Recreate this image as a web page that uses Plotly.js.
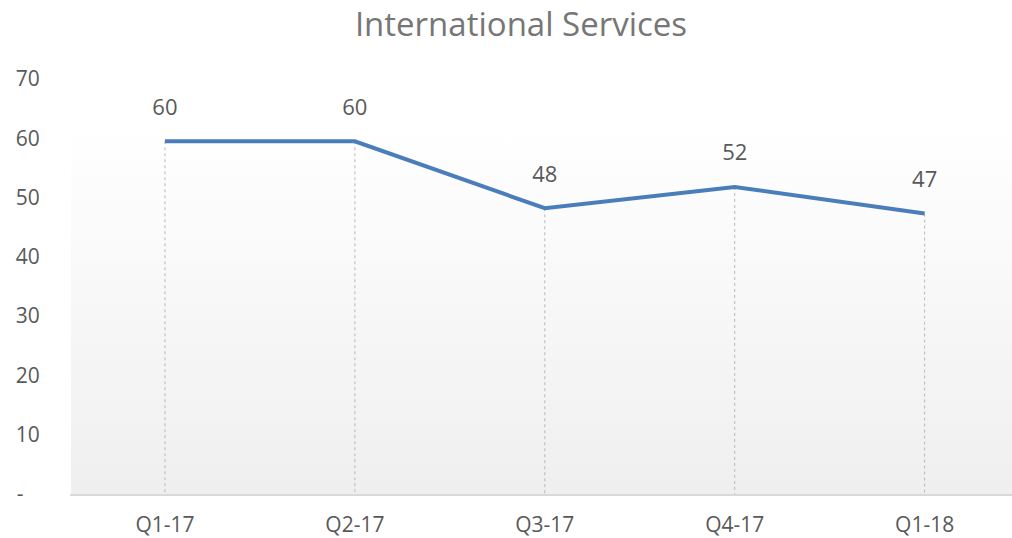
<!DOCTYPE html>
<html>
<head>
<meta charset="utf-8">
<script src="https://cdn.plot.ly/plotly-3.0.1.min.js"></script>
<style>
html,body{margin:0;padding:0;background:#fff;}
#wrap{position:relative;width:1012px;height:538px;}
#bg{position:absolute;left:71px;top:128px;width:941px;height:366px;background:linear-gradient(to bottom,#ffffff 0%,#efefef 100%);}
#chart{position:absolute;left:0;top:0;width:1012px;height:538px;}
</style>
</head>
<body>
<div id="wrap"><div id="bg"></div><div id="chart"></div></div>
<script>
const categories = ["Q1-17","Q2-17","Q3-17","Q4-17","Q1-18"];
const values = [59.5, 59.5, 48.2, 51.8, 47.3];
const labels = ["60","60","48","52","47"];
const yTickVals = [0,10,20,30,40,50,60,70];
const yTickText = ["-\u00a0\u00a0\u00a0","10","20","30","40","50","60","70"];

const dropX = [], dropY = [];
categories.forEach((c,i)=>{ dropX.push(c,c,null); dropY.push(values[i],0,null); });

const font = "'Open Sans', sans-serif";
const traces = [
  {x: dropX, y: dropY, type:'scatter', mode:'lines', line:{color:'#b8b8b8', width:1, dash:'dot'}, hoverinfo:'skip', showlegend:false},
  {x: categories, y: values, type:'scatter', mode:'lines', line:{color:'#4a7ebb', width:4}, showlegend:false},
  {x: categories, y: values, type:'scatter', mode:'markers+text', text: labels, textposition:'top center',
   marker:{size:32, color:'rgba(0,0,0,0)'}, textfont:{size:22, color:'#595959', family:font}, showlegend:false, hoverinfo:'skip'}
];
const layout = {
  width:1012, height:538,
  margin:{l:70, r:0, t:79, b:44},
  paper_bgcolor:'rgba(0,0,0,0)', plot_bgcolor:'rgba(0,0,0,0)',
  title:{text:'International Services', font:{family:font, size:33, color:'#767676'}, x:521/1012, xref:'container', xanchor:'center', y:0.955, yanchor:'middle', yref:'container'},
  xaxis:{type:'category', range:[-0.5,4.46], showgrid:false, zeroline:false, showline:true, linecolor:'#d9d9d9', linewidth:2,
    ticks:'outside', ticklen:11, tickcolor:'rgba(0,0,0,0)', tickfont:{family:font, size:21, color:'#595959'}},
  yaxis:{range:[0,70], tickvals:yTickVals, ticktext:yTickText, showgrid:false, zeroline:false, showline:false,
    ticks:'outside', ticklen:25, tickcolor:'rgba(0,0,0,0)', tickfont:{family:font, size:21, color:'#595959'}},
  showlegend:false
};
Plotly.newPlot('chart', traces, layout, {displayModeBar:false, staticPlot:true});
</script>
</body>
</html>
